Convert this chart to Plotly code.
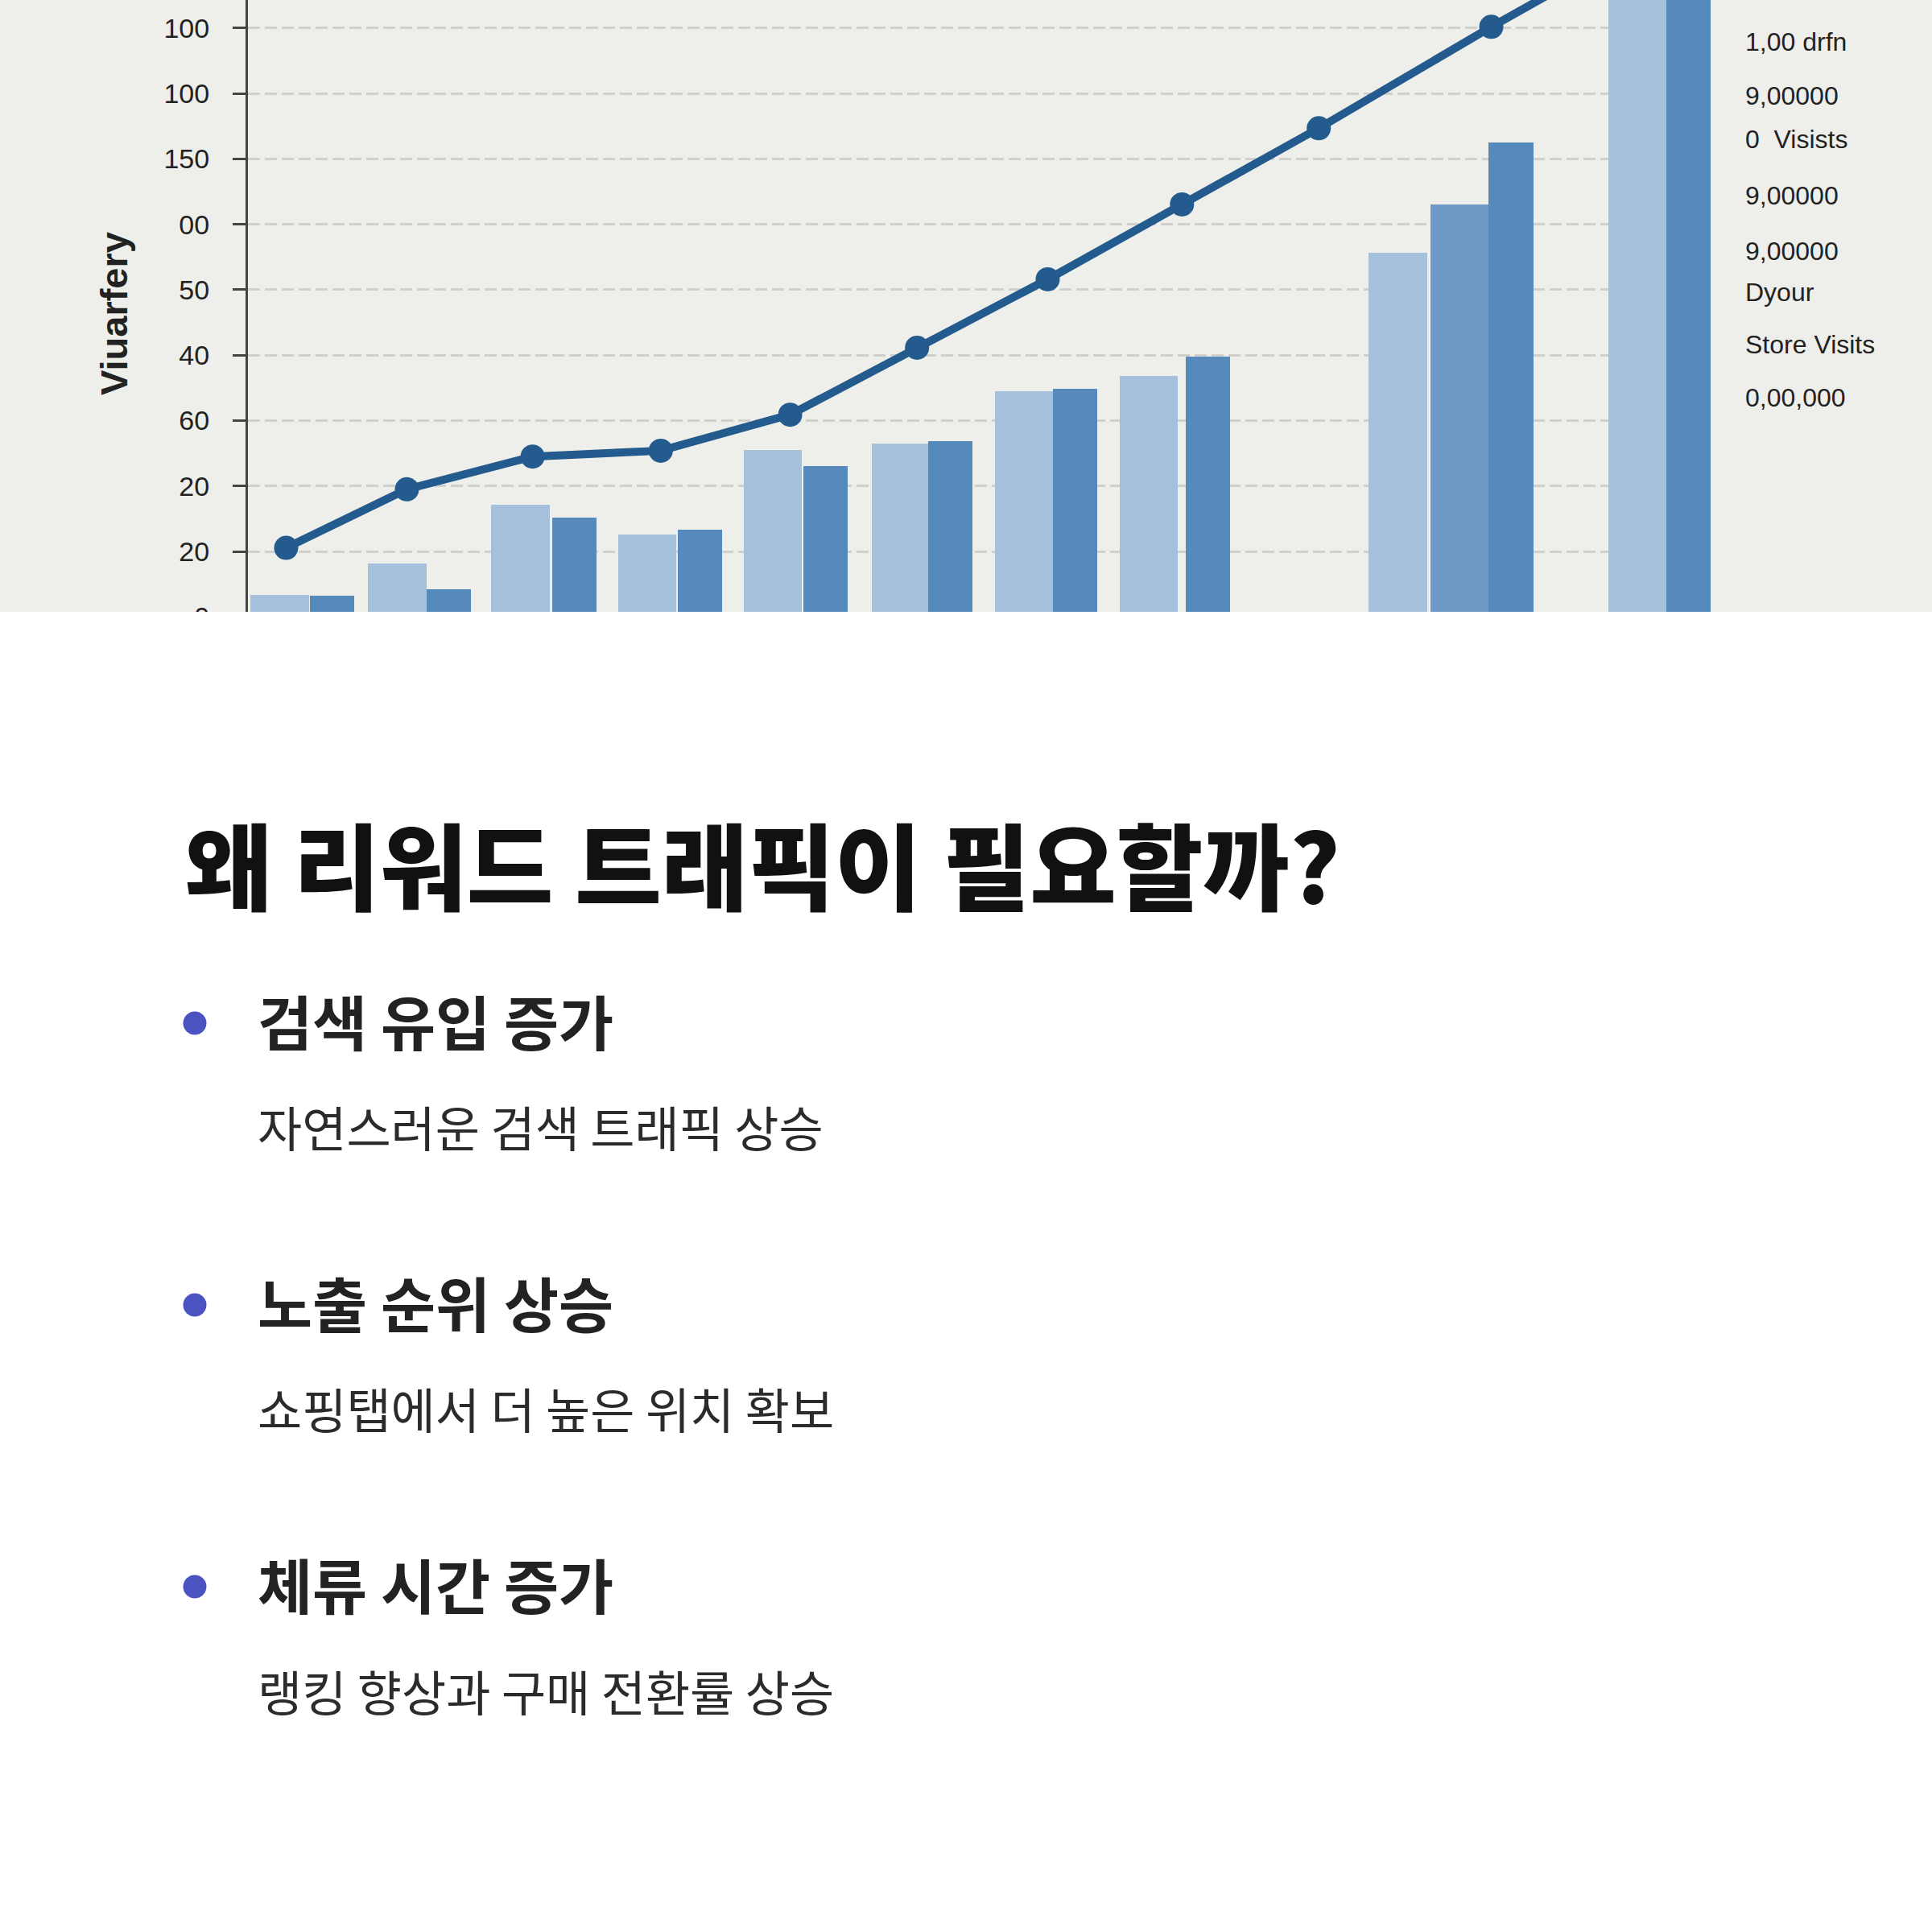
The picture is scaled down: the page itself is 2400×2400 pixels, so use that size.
import plotly.graph_objects as go

# --- chart data ---
line_x = [0.31, 1.29, 2.31, 3.35, 4.40, 5.43, 6.49, 7.58, 8.69, 10.09, 11.49]
line_y = [21.1, 39.0, 49.0, 50.8, 61.8, 82.3, 103.2, 126.1, 149.4, 180.4, 210.0]

light_x = [0.26, 1.21, 2.21, 3.24, 4.26, 5.30, 6.30, 7.31, 9.33, 11.28]
light_y = [6.8, 16.2, 34.3, 25.1, 51.1, 52.9, 69.0, 73.7, 111.2, 230.0]

mid_x = [9.84]
mid_y = [126.1]

dark_x = [0.68, 1.63, 2.65, 3.67, 4.69, 5.70, 6.71, 7.79, 10.25, 11.69]
dark_y = [6.5, 8.4, 30.4, 26.6, 46.2, 53.7, 69.8, 79.5, 145.1, 240.0]

tick_vals = [0, 20, 40, 60, 80, 100, 120, 140, 160, 180]
tick_text = ["0", "20", "20", "60", "40", "50", "00", "150", "100", "100"]

side_labels = ["1,00 drfn", "9,00000", "0  Visists", "9,00000", "9,00000",
               "Dyour", "Store Visits", "0,00,000"]

y_title = "Viuarfery"

heading = "왜 리워드 트래픽이 필요할까?"
points = ["검색 유입 증가", "노출 순위 상승", "체류 시간 증가"]
details = ["자연스러운 검색 트래픽 상승", "쇼핑탭에서 더 높은 위치 확보", "랭킹 향상과 구매 전환률 상승"]

W = H = 2400
PANEL_BG = "#eeefeb"
LINE_BLUE = "#245b8e"


def py(px):
    # pixel row from top -> paper y
    return 1 - px / H


fig = go.Figure()

fig.add_trace(go.Bar(x=light_x, y=light_y, width=0.475,
                     marker=dict(color="#a5c0da", line=dict(width=0))))
fig.add_trace(go.Bar(x=mid_x, y=mid_y, width=0.49,
                     marker=dict(color="#6f99c6", line=dict(width=0))))
fig.add_trace(go.Bar(x=dark_x, y=dark_y, width=0.36,
                     marker=dict(color="#5689bc", line=dict(width=0))))

fig.add_trace(go.Scatter(
    x=line_x, y=line_y, mode="lines+markers",
    line=dict(color=LINE_BLUE, width=10),
    marker=dict(color=LINE_BLUE, size=30),
))

shapes = [
    # grey panel behind the chart
    dict(type="rect", xref="paper", yref="paper", x0=0, x1=1, y0=py(760), y1=1,
         fillcolor=PANEL_BG, line=dict(width=0), layer="below"),
    # white page below the panel (crops the chart)
    dict(type="rect", xref="paper", yref="paper", x0=0, x1=1, y0=0, y1=py(760),
         fillcolor="white", line=dict(width=0), layer="above"),
]

annotations = [
    dict(text=y_title, xref="paper", yref="paper", x=142 / W, y=py(390),
         xanchor="center", yanchor="middle", textangle=-90, showarrow=False,
         font=dict(family="Liberation Sans", size=47, color="#222", weight=700)),
]

side_rows = [52, 119, 173, 243, 312, 363, 428, 494]
for lab, row in zip(side_labels, side_rows):
    annotations.append(dict(text=lab, xref="paper", yref="paper", x=2166 / W, y=py(row),
                            xanchor="left", yanchor="middle", showarrow=False,
                            font=dict(family="Liberation Sans", size=32, color="#222")))

annotations.append(dict(text=heading, xref="paper", yref="paper", x=228 / W, y=py(1071),
                        xanchor="left", yanchor="middle", showarrow=False,
                        font=dict(family="Noto Sans CJK KR", size=117, color="#111", weight=900)))

head_rows = [1266, 1616, 1966]
detail_rows = [1398, 1748, 2099]
for p, d, hr, dr in zip(points, details, head_rows, detail_rows):
    shapes.append(dict(type="circle", xref="paper", yref="paper",
                       x0=(242 - 14.5) / W, x1=(242 + 14.5) / W,
                       y0=py(hr + 5 + 14.5), y1=py(hr + 5 - 14.5),
                       fillcolor="#4b53c1", line=dict(width=0), layer="above"))
    annotations.append(dict(text=p, xref="paper", yref="paper", x=318 / W, y=py(hr),
                            xanchor="left", yanchor="middle", showarrow=False,
                            font=dict(family="Noto Sans CJK KR", size=74, color="#222", weight=700)))
    annotations.append(dict(text=d, xref="paper", yref="paper", x=318 / W, y=py(dr),
                            xanchor="left", yanchor="middle", showarrow=False,
                            font=dict(family="Noto Sans CJK KR", size=60, color="#2b2b2b")))

fig.update_layout(
    width=W, height=H,
    margin=dict(l=0, r=0, t=0, b=0),
    paper_bgcolor="white",
    plot_bgcolor=PANEL_BG,
    showlegend=False,
    barmode="overlay",
    bargap=0,
    xaxis=dict(domain=[308 / W, 2125 / W], range=[0, 11.87], visible=False),
    yaxis=dict(
        domain=[py(800), 1],
        range=[-8.3, 188.6],
        tickvals=tick_vals, ticktext=tick_text,
        showline=True, linecolor="#444", linewidth=3,
        ticks="outside", ticklen=16, tickwidth=3, tickcolor="#444",
        ticklabelstandoff=22,
        tickfont=dict(family="Liberation Sans", size=34, color="#222"),
        showgrid=True, gridcolor="#d0d1cd", gridwidth=2.5, griddash="15px,6px",
        zeroline=False,
    ),
    shapes=shapes,
    annotations=annotations,
)

# page has a default 8px body margin; drop it so the figure sits flush
fig.write_html("out.html", config={"displayModeBar": False},
               post_script="document.body.style.margin='0';")
